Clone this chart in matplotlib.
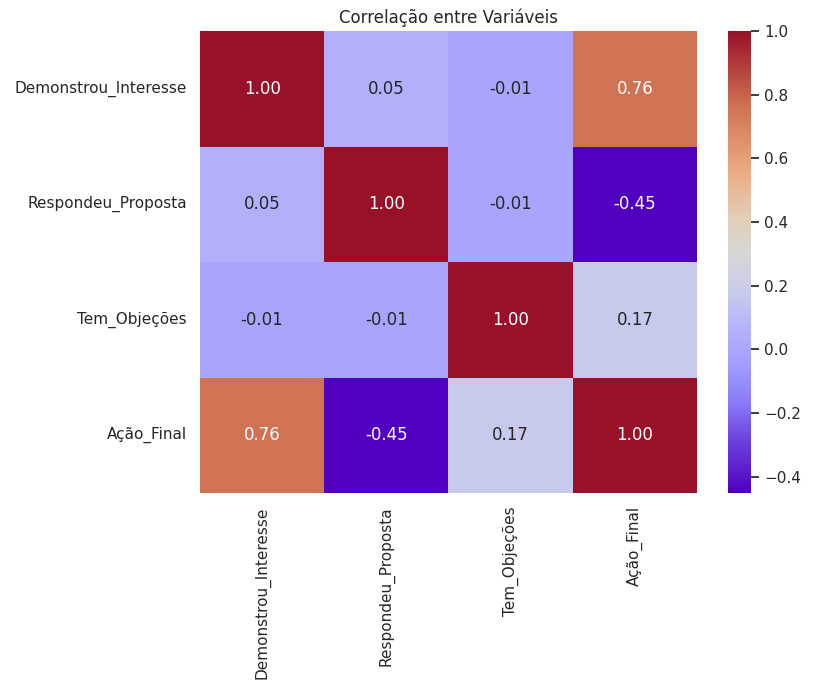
import matplotlib
matplotlib.use("Agg")
import matplotlib.pyplot as plt
import numpy as np
import pandas as pd
import seaborn as sns
from matplotlib.colors import LinearSegmentedColormap

variables = ["Demonstrou_Interesse", "Respondeu_Proposta", "Tem_Objeções", "Ação_Final"]

demonstrou = [1.00, 0.05, -0.01, 0.76]
respondeu = [0.05, 1.00, -0.01, -0.45]
objecoes = [-0.01, -0.01, 1.00, 0.17]
acao = [0.76, -0.45, 0.17, 1.00]

# colour stops sampled from the reference colour bar
stops = [0.0, 0.12, 0.2, 0.3, 0.36, 0.43, 0.52, 0.6, 0.7, 0.84, 1.0]
stop_colors = [
    (80, 0, 190), (110, 70, 225), (140, 125, 250), (170, 165, 252),
    (180, 180, 250), (200, 202, 236), (215, 215, 215), (228, 205, 180),
    (235, 170, 130), (207, 113, 83), (152, 17, 40),
]

W, H = 837, 698


def main():
    sns.set_theme()
    corr = pd.DataFrame(
        np.array([demonstrou, respondeu, objecoes, acao]),
        index=variables,
        columns=variables,
    )
    cmap = LinearSegmentedColormap.from_list(
        "corr", [(s, tuple(c / 255 for c in col)) for s, col in zip(stops, stop_colors)]
    )

    fig = plt.figure(figsize=(W / 100, H / 100), dpi=100)
    # axes placed in pixel terms to match the reference layout
    ax = fig.add_axes([200 / W, (H - 493) / H, 497 / W, 462 / H])
    cax = fig.add_axes([728 / W, (H - 493) / H, 23 / W, 462 / H])
    sns.heatmap(corr, annot=True, fmt=".2f", cmap=cmap, vmin=-0.4515, vmax=1.0,
                ax=ax, cbar_ax=cax)
    ax.set_title("Correlação entre Variáveis")
    fig.savefig("out.png")
    plt.close(fig)


if __name__ == "__main__":
    main()
